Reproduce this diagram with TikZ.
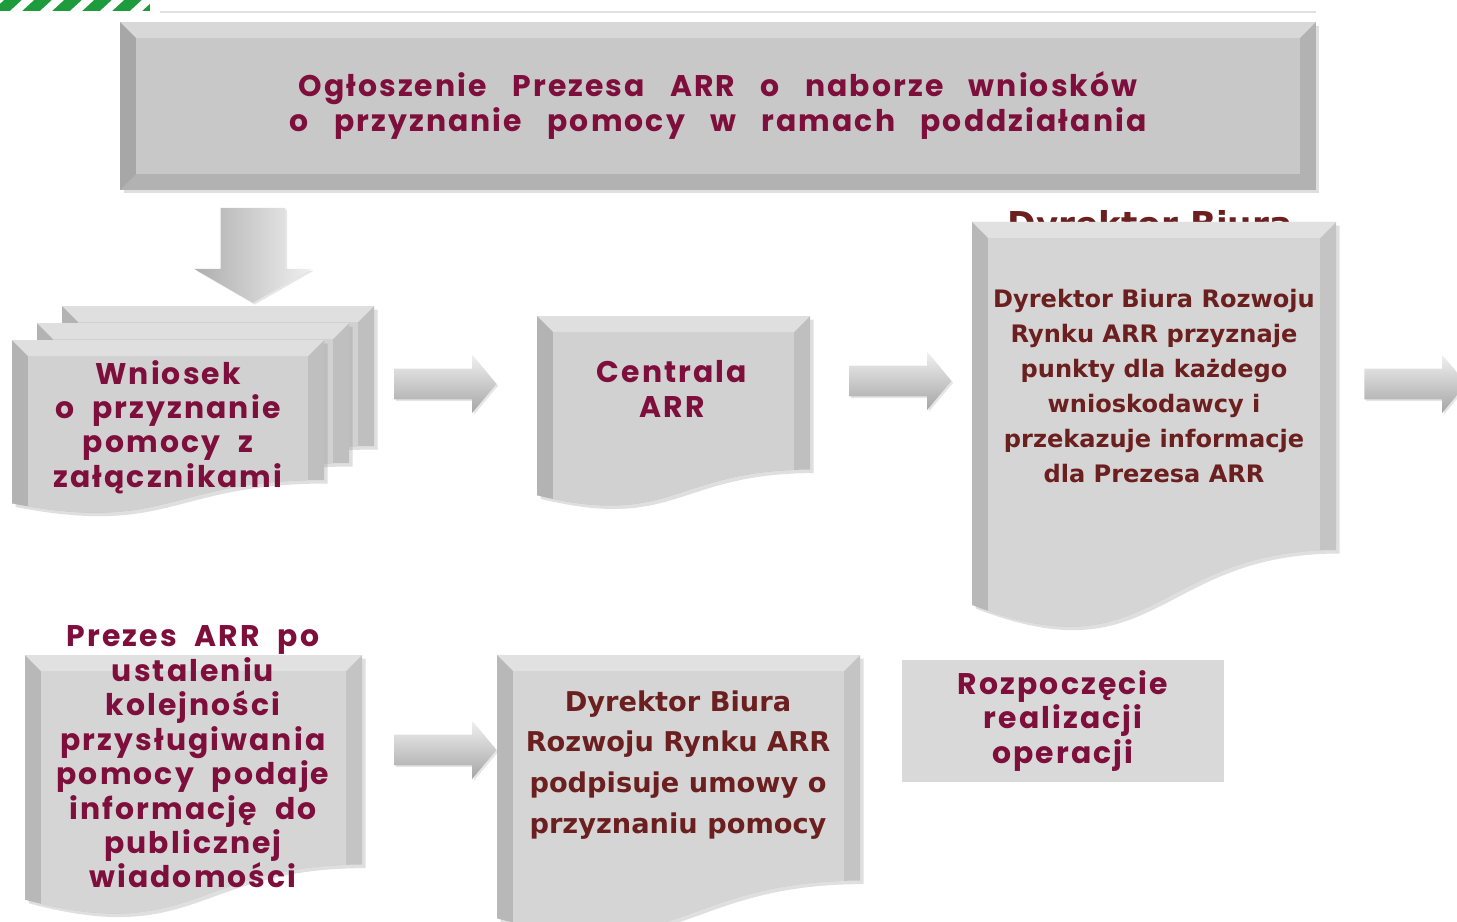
\documentclass[tikz,border=0pt]{standalone}
\usepackage{fontspec}
\usetikzlibrary{shapes.arrows,shadows}

\newfontfamily\glowfont{Poppins}[LetterSpace=7]
\newfontfamily\comicfont{DejaVu Sans}
\newcommand{\widewords}[1]{\spaceskip=#1em\relax}
\definecolor{glowred}{HTML}{7E0E3C}
\definecolor{darkbrown}{HTML}{6B1F1F}
\definecolor{flaggreen}{HTML}{1E9B3C}

% document shape: x1, top, x2, height
\newcommand{\docpath}[4]{(#1,#2) -- (#3,#2) -- (#3,{#2+0.8*(#4)})
  .. controls ({(#1+#3)/2},{#2+0.8*(#4)}) and ({(#1+#3)/2},{#2+1.107*(#4)}) .. (#1,{#2+0.934*(#4)}) -- cycle}

\tikzset{
  bevel/.style={fill=black!#1, drop shadow={opacity=0.25,shadow xshift=2pt,shadow yshift=-2pt},
    path picture={
      \fill[black!#1!white!72] ([shift={(9pt,-9pt)}]path picture bounding box.north west)
        rectangle ([shift={(-9pt,9pt)}]path picture bounding box.south east);
      \fill[white,opacity=0.5] (path picture bounding box.north west) -- (path picture bounding box.north east)
        -- ([shift={(-9pt,-9pt)}]path picture bounding box.north east) -- ([shift={(9pt,-9pt)}]path picture bounding box.north west) -- cycle;
      \fill[black,opacity=0.06] (path picture bounding box.north west) -- ([shift={(9pt,-9pt)}]path picture bounding box.north west)
        -- ([shift={(9pt,9pt)}]path picture bounding box.south west) -- (path picture bounding box.south west) -- cycle;
    }},
  glowtext/.style={text=glowred, align=center, font=\glowfont\bfseries\fontsize{17}{19.6}\selectfont\widewords{0.6}},
  comictext/.style={text=darkbrown, align=center, font=\comicfont\bfseries\fontsize{13.7}{19.9}\selectfont},
  blockarrow/.style={single arrow, draw=none, inner xsep=0pt, top color=black!6, bottom color=black!35,
    drop shadow={opacity=0.2,shadow xshift=1pt,shadow yshift=-1pt}}
}

\begin{document}
\begin{tikzpicture}[x=0.02cm,y=-0.02cm]
  \useasboundingbox (0,0) rectangle (1457,922);

  % logo strip
  \begin{scope}
    \clip (0,0) rectangle (150,11);
    \fill[flaggreen] (0,0) rectangle (150,11);
    \foreach \s in {-20,10,...,160}
      \fill[white] (\s,11) -- (\s+12,11) -- (\s+24,0) -- (\s+12,0) -- cycle;
  \end{scope}
  \draw[black!12, line width=1pt] (160,12) -- (1316,12);

  % announcement
  \node [bevel=30, minimum width=23.92cm, minimum height=3.36cm, glowtext,
         font=\glowfont\bfseries\fontsize{17}{19.9}\selectfont\widewords{0.85}]
    (ogl) at (718,106) {Ogłoszenie Prezesa ARR o naborze wniosków\\o przyznanie pomocy w ramach poddziałania};

  \node [blockarrow, left color=black!32, right color=black!6, rotate=-90,
         minimum height=1.9cm, inner ysep=0.64cm, single arrow head extend=0.53cm,
         single arrow tip angle=120] (adown) at (253,246) {};

  % application (stacked pages)
  \path [bevel=25] \docpath{62}{306}{374}{175};
  \path [bevel=25] \docpath{37}{323}{349}{175};
  \path [bevel=25] \docpath{12}{340}{324}{175};
  \node [glowtext] (wniosek) at (168,427) {Wniosek\\o przyznanie\\pomocy z\\załącznikami};

  \node [blockarrow, minimum height=2.04cm, inner ysep=0.3cm, single arrow head extend=0.27cm,
         single arrow tip angle=100] (a1) at (439,384) {};

  \path [bevel=25] \docpath{537}{316}{810}{192};
  \node [glowtext] (centrala) at (672,389) {Centrala\\ARR};

  \node [blockarrow, minimum height=2.04cm, inner ysep=0.3cm, single arrow head extend=0.27cm,
         single arrow tip angle=100] (a2) at (894,381) {};

  % hidden heading behind the box
  \node [comictext, font=\comicfont\bfseries\fontsize{19.5}{19.9}\selectfont, anchor=base] (hidden) at (1150,236) {Dyrektor Biura};
  \path [bevel=23] \docpath{972}{222}{1336}{410};
  \node [comictext] (dyrpunkty) at (1154,386)
    {Dyrektor Biura Rozwoju\\Rynku ARR przyznaje\\punkty dla każdego\\wnioskodawcy i\\przekazuje informacje\\dla Prezesa ARR};

  \node [blockarrow, minimum height=2.04cm, inner ysep=0.3cm, single arrow head extend=0.27cm,
         single arrow tip angle=100] (a3) at (1409,384) {};

  % second row
  \path [bevel=23] \docpath{25}{655}{362}{262};
  \node [glowtext] (prezes) at (193,757)
    {Prezes ARR po\\ustaleniu\\kolejności\\przysługiwania\\pomocy podaje\\informację do\\publicznej\\wiadomości};

  \node [blockarrow, minimum height=2.04cm, inner ysep=0.3cm, single arrow head extend=0.27cm,
         single arrow tip angle=100] (a4) at (439,750) {};

  \path [bevel=23] \docpath{497}{655}{860}{282};
  \node [comictext, font=\comicfont\bfseries\fontsize{15.5}{23.3}\selectfont] (dyrumowy) at (678,765)
    {Dyrektor Biura\\Rozwoju Rynku ARR\\podpisuje umowy o\\przyznaniu pomocy};

  \node [fill=black!15, minimum width=6.46cm, minimum height=2.44cm, glowtext] (start) at (1063,721)
    {Rozpoczęcie\\realizacji\\operacji};
\end{tikzpicture}
\end{document}
